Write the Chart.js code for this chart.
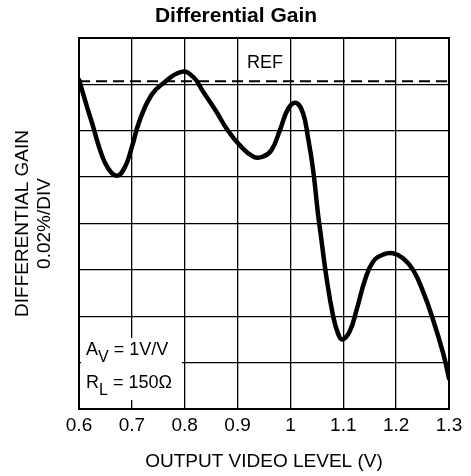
<!DOCTYPE html>
<html>
<head>
<meta charset="utf-8">
<script src="https://cdn.jsdelivr.net/npm/chart.js@4/dist/chart.umd.min.js"></script>
<style>
 html, body { margin: 0; padding: 0; background: #fff; }
 canvas { display: block; }
</style>
</head>
<body>
<canvas id="gainChart" width="471" height="476" style="width:471px;height:476px"></canvas>
<script>
// valores (eixo y em divisoes, 0.02%/DIV)
const levels = [0.600, 0.615, 0.627, 0.640, 0.655, 0.672, 0.687, 0.700, 0.715, 0.737, 0.759, 0.794, 0.816, 0.835, 0.860, 0.879, 0.904, 0.930, 0.948, 0.964, 0.980, 0.996, 1.011, 1.024, 1.033, 1.043, 1.052, 1.057, 1.068, 1.081, 1.090, 1.098, 1.112, 1.125, 1.141, 1.156, 1.175, 1.194, 1.213, 1.232, 1.251, 1.270, 1.289, 1.300];
const gain = [7.10, 6.52, 6.08, 5.58, 5.19, 5.03, 5.22, 5.65, 6.23, 6.77, 7.02, 7.27, 7.16, 6.84, 6.41, 6.05, 5.69, 5.44, 5.44, 5.58, 6.01, 6.48, 6.60, 6.37, 5.87, 5.15, 4.22, 3.79, 2.85, 1.99, 1.63, 1.50, 1.67, 2.13, 2.78, 3.17, 3.33, 3.36, 3.25, 3.00, 2.53, 1.92, 1.20, 0.66];
const refRange = [0.6, 1.3];
const refLevel = 7.07;
const xTicks = [0.6, 0.7, 0.8, 0.9, 1.0, 1.1, 1.2, 1.3];

const FONT = "'Liberation Sans', Arial, sans-serif";

const curve = levels.map((x, i) => ({ x: x, y: gain[i] }));
const refLine = refRange.map(x => ({ x: x, y: refLevel }));

// desenha titulo, moldura e anotacoes
const extras = {
 id: "extras",
 beforeDatasetsDraw(chart) {
 const ctx = chart.ctx;
 const a = chart.chartArea;
 ctx.save();
 // caixa branca das anotacoes
 ctx.fillStyle = "#fff";
 ctx.fillRect(a.left + 2, 338, 101, 62);
 ctx.restore();
 },
 afterDraw(chart) {
 const ctx = chart.ctx;
 const a = chart.chartArea;
 ctx.save();
 ctx.fillStyle = "#000";
 ctx.textAlign = "center";
 ctx.textBaseline = "middle";
 ctx.font = "bold 21px " + FONT;
 ctx.fillText("Differential Gain", 236, 16);

 ctx.font = "18px " + FONT;
 ctx.fillText("REF", 265, 63);

 ctx.strokeStyle = "#000";
 ctx.lineWidth = 2;
 ctx.strokeRect(a.left, a.top, a.right - a.left, a.bottom - a.top);

 // A_V e R_L com subscrito
 ctx.textAlign = "left";
 ctx.textBaseline = "alphabetic";
 function sub(main, s, rest, x, y) {
 ctx.font = "18px " + FONT;
 ctx.fillText(main, x, y);
 x += ctx.measureText(main).width;
 ctx.font = "16px " + FONT;
 ctx.fillText(s, x, y + 7);
 x += ctx.measureText(s).width;
 ctx.font = "18px " + FONT;
 ctx.fillText(rest, x, y);
 }
 sub("A", "V", " = 1V/V", 86, 355);
 sub("R", "L", " = 150\u03A9", 86, 388);
 ctx.restore();
 }
};

new Chart(document.getElementById("gainChart"), {
 type: "line",
 data: {
 datasets: [
 {
 data: curve,
 borderColor: "#000",
 borderWidth: 4.5,
 pointRadius: 0,
 tension: 0.45,
 borderJoinStyle: "round",
 borderCapStyle: "round",
 fill: false
 },
 {
 data: refLine,
 borderColor: "#000",
 borderWidth: 2,
 borderDash: [11, 6],
 pointRadius: 0,
 fill: false
 }
 ]
 },
 options: {
 responsive: false,
 animation: false,
 layout: { padding: { top: 38, right: 22, left: 0, bottom: 0 } },
 plugins: {
 legend: { display: false },
 tooltip: { enabled: false }
 },
 scales: {
 x: {
 type: "linear",
 min: 0.6,
 max: 1.3,
 afterFit: s => { s.height = 67; },
 afterBuildTicks: s => { s.ticks = xTicks.map(v => ({ value: v })); },
 grid: { color: "#000", lineWidth: 1.3, drawTicks: false },
 border: { display: false },
 ticks: {
 color: "#000",
 padding: 5,
 maxRotation: 0,
 autoSkip: false,
 font: { family: FONT, size: 19 },
 callback: v => String(+v.toFixed(1))
 },
 title: {
 display: true,
 text: "OUTPUT VIDEO LEVEL (V)",
 color: "#000",
 font: { family: FONT, size: 19 },
 padding: { top: 0, bottom: 3 }
 }
 },
 y: {
 min: 0,
 max: 8,
 afterFit: s => { s.width = 79; },
 grid: { color: "#000", lineWidth: 1.3, drawTicks: false },
 border: { display: false },
 ticks: { stepSize: 1, display: false },
 title: {
 display: true,
 text: ["DIFFERENTIAL GAIN", "0.02%/DIV"],
 color: "#000",
 font: { family: FONT, size: 19, lineHeight: 1.15 },
 padding: { top: 12, bottom: 0 }
 }
 }
 }
 },
 plugins: [extras]
});
</script>
</body>
</html>
